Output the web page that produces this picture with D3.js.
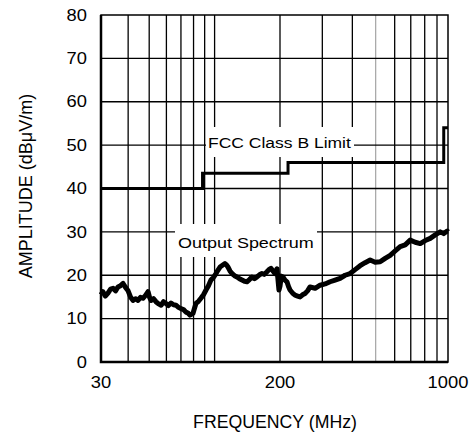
<!DOCTYPE html>
<html>
<head>
<meta charset="utf-8">
<script src="https://cdn.jsdelivr.net/npm/d3@7"></script>
<style>
  body { margin: 0; background: #fff; }
  svg text { font-family: "Liberation Sans", Arial, sans-serif; fill: #000; }
</style>
</head>
<body>
<svg id="chart" width="475" height="434"></svg>
<script>
// axis ticks
var yTicks = [0, 10, 20, 30, 40, 50, 60, 70, 80];
var xLabels = [30, 200, 1000];
var xGrid = [40, 50, 60, 70, 80, 90, 100, 200, 300, 400, 500, 600, 700, 800, 900];

// FCC class B limit (step after)
var limitFreq = [30, 88, 216, 960, 1000];
var limitDb = [40, 43.5, 46, 54, 54];

// measured output spectrum
var specFreq = [30, 30.6, 31.4, 32.3, 33.2, 34.1, 35.0, 35.9, 36.9, 37.9, 38.9, 39.9, 41.0, 42.1, 43.2,
  44.4, 45.6, 46.8, 48.0, 49.4, 50.2, 51, 52.3, 53.7, 55.2, 56.7, 58.2, 59.7, 61.3, 63, 64.7,
  66.4, 68.2, 70, 71.9, 73.8, 75.4, 77, 78.2, 79.5, 80.8, 82.1, 84.3, 86.5, 88.9, 91.3, 93.7,
  96.2, 98.8, 101.5, 103.7, 105.9, 108.7, 111.6, 113.4, 115.2, 117.7, 120.2, 123.5, 126.8, 130.2,
  133.7, 137.3, 140.9, 144.7, 148.6, 152.6, 156.7, 160.9, 165.2, 169.6, 174.2, 177.9, 181.7,
  185.6, 189.6, 193.7, 197.8, 200, 202.5, 205.8, 209.8, 213.8, 217, 220.2, 225.5, 231, 236.6,
  242.4, 248.2, 254.2, 260.4, 266.7, 280, 293.6, 308, 323.2, 339, 355.7, 373, 391.4, 410.7,
  430.9, 452, 474.3, 497.6, 522, 547.7, 574.6, 603, 632.5, 663.6, 696.2, 730.4, 766.3, 804, 843.4,
  884.8, 928.3, 960, 993, 1000];
var specDb = [15.5, 16.2, 15.2, 15.9, 16.8, 17.0, 16.4, 17.3, 17.6, 18.1, 17.2, 16.5, 15.0, 14.2, 14.6,
  14.2, 14.9, 14.7, 15.3, 16.2, 14.9, 14.2, 14.6, 13.9, 13.4, 13.1, 13.9, 13.5, 13.0, 13.6, 13.2,
  13.1, 12.6, 12.3, 12.1, 11.5, 11.3, 10.8, 11.0, 11.2, 12.4, 13.5, 14.0, 14.7, 15.5, 16.6, 17.6,
  18.9, 19.5, 20.4, 21.2, 21.9, 22.3, 22.7, 22.4, 21.9, 21.0, 20.4, 19.9, 19.6, 19.2,
  18.9, 18.6, 18.5, 19.0, 19.6, 19.2, 19.6, 20.1, 20.4, 20.2, 20.8, 21.3, 21.6,
  21.0, 20.4, 21.5, 16.6, 17.5, 19.8, 19.6, 18.9, 18.5, 17.4, 16.6, 15.9, 15.4, 15.2,
  15.0, 15.5, 15.8, 16.4, 17.3, 17.0, 17.7, 18.0, 18.5, 18.9, 19.3, 20.0, 20.4, 21.3,
  22.2, 22.9, 23.5, 23.0, 23.1, 23.9, 24.6, 25.6, 26.6, 27.0, 28.1, 27.6, 27.3, 28.0, 28.5,
  29.3, 30.0, 29.6, 30.2, 30.0];

var svg = d3.select("#chart");
var plotL = 101, plotR = 448, plotT = 15, plotB = 362;

// two log segments with their own decade width, as in the original plot
var x = d3.scaleLog().domain([30, 200, 1000]).range([plotL, 280, plotR]);
var y = d3.scaleLinear().domain([0, 80]).range([plotB, plotT]);

// text, optionally widened a little to match the original lettering
function label(px, py, txt, size, anchor, sx) {
  var g = svg.append("g")
    .attr("transform", "translate(" + px + "," + py + ") scale(" + (sx || 1) + ",1)");
  return g.append("text")
    .attr("text-anchor", anchor || "start")
    .attr("font-size", size)
    .text(txt);
}

var grid = svg.append("g");
grid.selectAll("line.v")
  .data(xGrid)
  .enter().append("line")
  .attr("class", "v")
  .attr("x1", function(d) { return x(d); })
  .attr("x2", function(d) { return x(d); })
  .attr("y1", plotT).attr("y2", plotB)
  .attr("stroke", function(d) { return d === 500 ? "#aaa" : "#000"; })
  .attr("stroke-width", 1.3);
grid.selectAll("line.h")
  .data(yTicks.slice(1, -1))
  .enter().append("line")
  .attr("class", "h")
  .attr("x1", plotL).attr("x2", plotR)
  .attr("y1", function(d) { return y(d); })
  .attr("y2", function(d) { return y(d); })
  .attr("stroke", "#000")
  .attr("stroke-width", 1.3);

// white boxes behind the curve labels (they cut the grid)
svg.append("rect").attr("x", 206).attr("y", 127).attr("width", 148).attr("height", 30).attr("fill", "#fff");
svg.append("rect").attr("x", 175).attr("y", 224).attr("width", 142).attr("height", 33).attr("fill", "#fff");

var limitPts = limitFreq.map(function(f, i) { return [f, limitDb[i]]; });
svg.append("path")
  .datum(limitPts)
  .attr("fill", "none")
  .attr("stroke", "#000")
  .attr("stroke-width", 3)
  .attr("d", d3.line()
    .x(function(d) { return x(d[0]); })
    .y(function(d) { return y(d[1]); })
    .curve(d3.curveStepAfter));

var specPts = specFreq.map(function(f, i) { return [f, specDb[i]]; });
svg.append("path")
  .datum(specPts)
  .attr("fill", "none")
  .attr("stroke", "#000")
  .attr("stroke-width", 5)
  .attr("stroke-linejoin", "round")
  .attr("d", d3.line()
    .x(function(d) { return x(d[0]); })
    .y(function(d) { return y(d[1]); }));

// frame
svg.append("rect")
  .attr("x", plotL).attr("y", plotT)
  .attr("width", plotR - plotL).attr("height", plotB - plotT)
  .attr("fill", "none").attr("stroke", "#000").attr("stroke-width", 1.5);
svg.append("path")
  .attr("d", "M" + plotL + "," + plotT + "V" + plotB + "H" + plotR)
  .attr("fill", "none").attr("stroke", "#000").attr("stroke-width", 2.5);

// tick labels
yTicks.forEach(function(d) {
  label(87, y(d), d, 15.8, "end", 1.16).attr("dy", "0.36em");
});
xLabels.forEach(function(d) {
  label(x(d), 388, d, 15.8, "middle", 1.16);
});

// titles
label(275, 428, "FREQUENCY (MHz)", 17.7, "middle");
svg.append("text")
  .attr("transform", "translate(32,186) rotate(-90)")
  .attr("text-anchor", "middle")
  .attr("font-size", 18)
  .text("AMPLITUDE (dB\u03bcV/m)");

label(208, 148, "FCC Class B Limit", 15.5, "start", 1.13);
label(178, 248, "Output Spectrum", 15.5, "start", 1.16);
</script>
</body>
</html>
